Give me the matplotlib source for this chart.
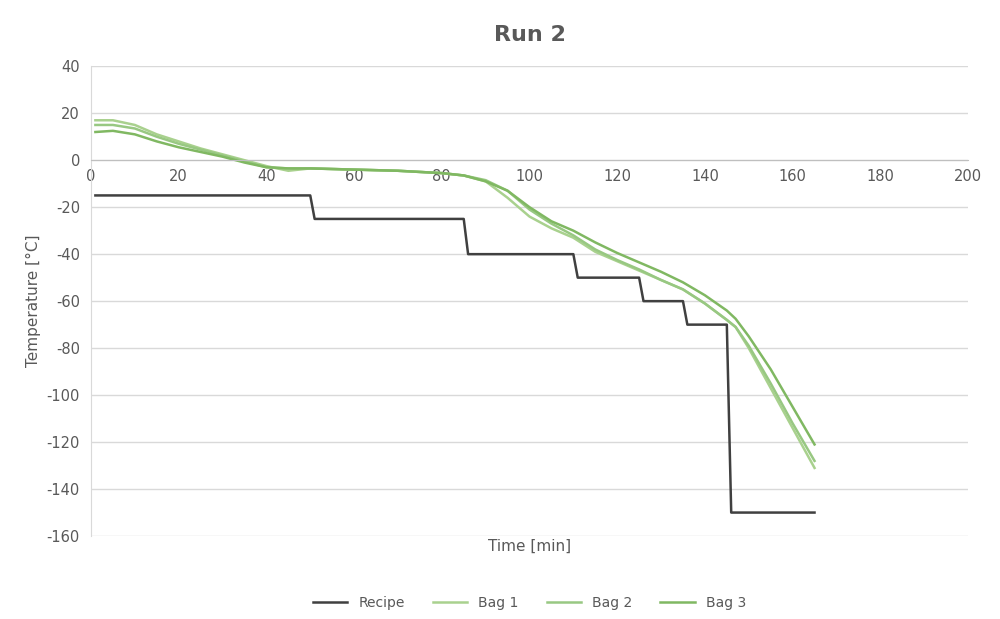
import matplotlib.pyplot as plt

plt.rcParams['axes.unicode_minus'] = False

# Recipe setpoint (step profile)
recipe_t = [1, 50, 51, 85, 86, 110, 111, 125, 126, 135, 136, 145, 146, 165]
recipe_v = [-15, -15, -25, -25, -40, -40, -50, -50, -60, -60, -70, -70, -150, -150]

bag_t = [1, 5, 10, 15, 20, 25, 30, 35, 40, 45, 50, 60, 70, 80, 85, 90, 95, 100,
         105, 110, 115, 120, 125, 130, 135, 140, 145, 147, 150, 155, 160, 165]
bag1 = [17, 17, 15, 11, 8, 5, 2.5, 0, -2.5, -4.5, -3.5, -4, -4.5, -5.5, -6.5, -9, -16, -24,
        -29, -33, -39, -43, -47, -51, -55, -61, -68, -71, -80, -97, -114, -131]
bag2 = [15, 15, 13.5, 10, 7, 4.5, 2, -0.5, -3, -3.5, -3.5, -4, -4.5, -5.5, -6.5, -8.5, -13, -21,
        -27, -32, -38, -42.5, -46.5, -51, -55, -61, -68, -71, -79, -95, -112, -128]
bag3 = [12, 12.5, 11, 8, 5.5, 3.5, 1.5, -1, -3, -3.5, -3.5, -4, -4.5, -5.5, -6.5, -9, -13, -20,
        -26, -30, -35, -39.5, -43.5, -47.5, -52, -57.5, -64, -67.5, -75, -89, -105, -121]

fig, ax = plt.subplots(figsize=(10, 6.19), dpi=100)
fig.subplots_adjust(left=0.091, right=0.968, top=0.893, bottom=0.134)

ax.plot(recipe_t, recipe_v, color='#404040', lw=1.8, label='Recipe')
ax.plot(bag_t, bag1, color='#a9d18e', lw=1.8, label='Bag 1')
ax.plot(bag_t, bag2, color='#98c882', lw=1.8, label='Bag 2')
ax.plot(bag_t, bag3, color='#80b862', lw=1.8, label='Bag 3')

ax.set_xlim(0, 200)
ax.set_ylim(-160, 40)
ax.set_xticks(range(0, 201, 20))
ax.set_yticks(range(-160, 41, 20))
ax.grid(axis='y', color='#d9d9d9', lw=1)
ax.set_axisbelow(True)
for s in ['top', 'right']:
    ax.spines[s].set_visible(False)
ax.spines['left'].set_color('#d9d9d9')
ax.spines['bottom'].set_position(('data', 0))
ax.spines['bottom'].set_color('#bfbfbf')
ax.tick_params(axis='both', length=0, colors='#595959', labelsize=10.5)
ax.tick_params(axis='x', pad=6)
ax.tick_params(axis='y', pad=8)

fig.text(0.53, 0.11, 'Time [min]', color='#595959', fontsize=11, ha='center')
ax.set_ylabel('Temperature [°C]', color='#595959', fontsize=11)
ax.set_title('Run 2', color='#595959', fontsize=16, fontweight='bold', pad=18)

ax.legend(loc='upper center', bbox_to_anchor=(0.5, -0.1), ncol=4, frameon=False,
          fontsize=10, labelcolor='#595959', handlelength=2.5)

plt.savefig('out.png', dpi=100)
plt.close()
